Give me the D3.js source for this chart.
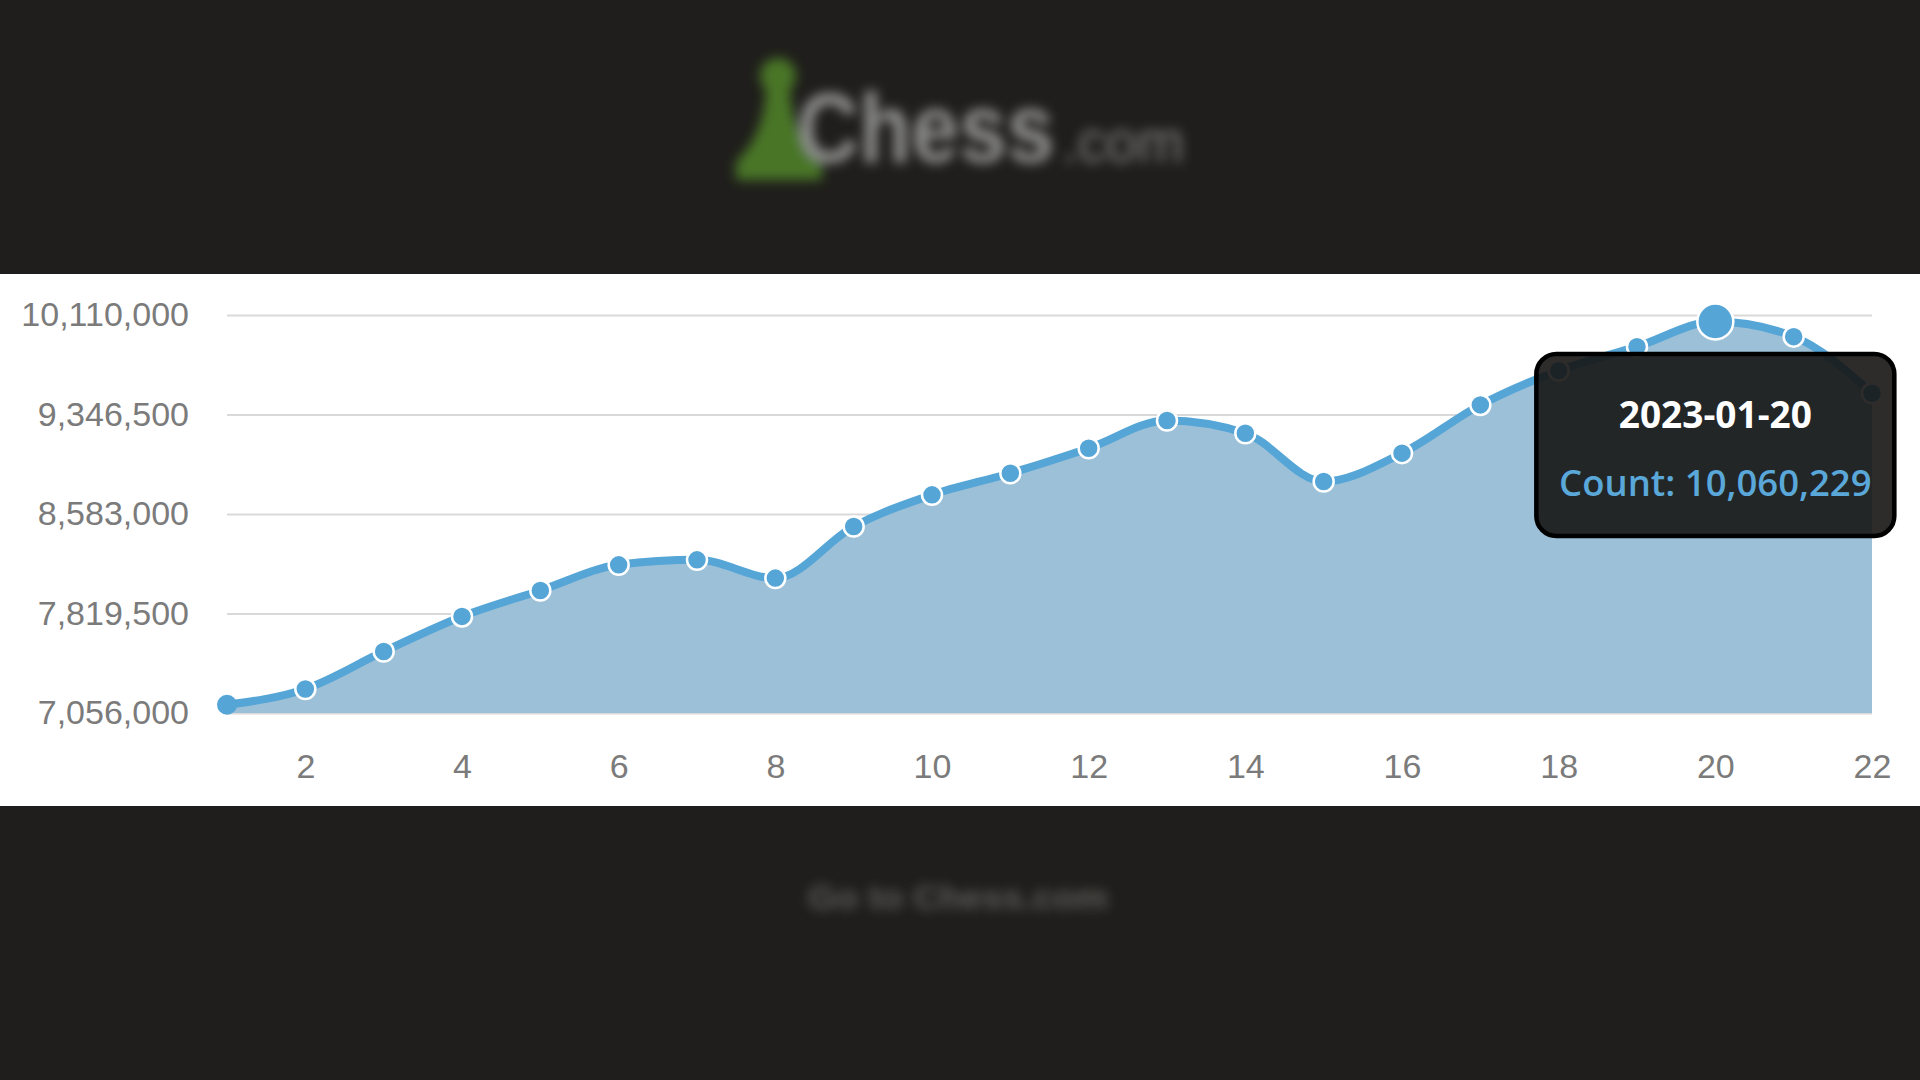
<!DOCTYPE html>
<html>
<head>
<meta charset="utf-8">
<script src="https://cdn.jsdelivr.net/npm/d3@7"></script>
<style>
  body { margin: 0; background: #1f1e1c; }
  svg { display: block; }
  .axis text { font-family: "Liberation Sans", Arial, sans-serif; fill: #7b7b7b; }
</style>
</head>
<body>
<svg width="1920" height="1080"></svg>
<script>
// data
var days = [1, 2, 3, 4, 5, 6, 7, 8, 9, 10, 11, 12, 13, 14, 15, 16, 17, 18, 19, 20, 21, 22];
var counts = [7119600, 7240000, 7528000, 7797000, 7996000, 8193000, 8231000, 8091000,
              8487000, 8730000, 8896000, 9088000, 9300000, 9203000, 8832000, 9050000,
              9420000, 9683000, 9867000, 10060229, 9944000, 9510000];
var yTicks = [7056000, 7819500, 8583000, 9346500, 10110000];
var xTicks = [2, 4, 6, 8, 10, 12, 14, 16, 18, 20, 22];
var hoverDay = 20, hoverDate = "2023-01-20";

var svg = d3.select("svg");

var defs = svg.append("defs");
defs.append("filter").attr("id", "blur")
    .attr("x", "-20%").attr("y", "-50%").attr("width", "140%").attr("height", "200%")
  .append("feGaussianBlur").attr("stdDeviation", 6);

// page background and the white chart panel
svg.append("rect").attr("width", 1920).attr("height", 1080).attr("fill", "#1f1e1c");
svg.append("rect").attr("y", 274).attr("width", 1920).attr("height", 532).attr("fill", "#fff");

// blurred logo
var logo = svg.append("g").attr("filter", "url(#blur)");
logo.append("circle").attr("cx", 778).attr("cy", 76).attr("r", 18).attr("fill", "#4a7628");
logo.append("path")
    .attr("d", "M766,90 L790,90 Q792,135 822,162 L822,180 L736,180 L736,162 Q764,135 766,90 Z")
    .attr("fill", "#4a7628");
logo.append("text")
    .attr("transform", "translate(797,162) scale(0.875,1)")
    .style("font", "bold 98px 'Liberation Sans', Arial, sans-serif")
    .attr("fill", "#8e8e8c").text("Chess");
logo.append("text").attr("x", 1062).attr("y", 162)
    .attr("transform", "translate(1062,162) scale(0.94,1)")
    .attr("x", 0).attr("y", 0)
    .style("font", "60px 'Liberation Sans', Arial, sans-serif")
    .attr("fill", "#7c7c7a").text(".com");

svg.append("text").attr("x", 958).attr("y", 909).attr("text-anchor", "middle")
    .attr("textLength", 300).attr("lengthAdjust", "spacingAndGlyphs")
    .attr("filter", "url(#blur)")
    .style("font", "bold 34px 'Liberation Sans', Arial, sans-serif")
    .attr("fill", "#5c5c5a").text("Go to Chess.com");

// chart
var x = d3.scaleLinear().domain([1, 22]).range([227, 1872]),
    y = d3.scaleLinear().domain([7056000, 10110000]).range([713, 315]);

var yAxis = svg.append("g")
    .attr("class", "axis")
    .attr("transform", "translate(227,0)")
    .call(d3.axisLeft(y).tickValues(yTicks).tickFormat(d3.format(","))
          .tickSize(-(1872 - 227)).tickPadding(38));
yAxis.select(".domain").remove();
yAxis.selectAll("line").attr("stroke", "#d9d9d9").attr("stroke-width", 2);
yAxis.selectAll("text").style("font-size", "34px");

var xAxis = svg.append("g")
    .attr("class", "axis")
    .attr("transform", "translate(0,713)")
    .call(d3.axisBottom(x).tickValues(xTicks).tickSize(0).tickPadding(41));
xAxis.select(".domain").remove();
xAxis.selectAll("text").style("font-size", "34px");

var data = days.map(function(d, i) { return {day: d, count: counts[i]}; });

var area = d3.area()
    .curve(d3.curveMonotoneX)
    .x(function(d) { return x(d.day); })
    .y0(y(7056000))
    .y1(function(d) { return y(d.count); });

var line = d3.line()
    .curve(d3.curveMonotoneX)
    .x(function(d) { return x(d.day); })
    .y(function(d) { return y(d.count); });

svg.append("path").datum(data).attr("d", area).attr("fill", "#9cc0d7");
svg.append("path").datum(data).attr("d", line)
    .attr("fill", "none").attr("stroke", "#55a5d6").attr("stroke-width", 8);

svg.selectAll(".dot")
    .data(data)
  .enter().append("circle")
    .attr("class", "dot")
    .attr("cx", function(d) { return x(d.day); })
    .attr("cy", function(d) { return y(d.count); })
    .attr("r", function(d) { return d.day === hoverDay ? 18 : 10; })
    .attr("fill", "#55a5d6")
    .attr("stroke", "#fff")
    .attr("stroke-width", function(d, i) { return i === 0 ? 0 : 2.5; });

// tooltip
var hover = data[days.indexOf(hoverDay)];
var tip = svg.append("g").attr("transform", "translate(" + x(hover.day) + ",0)");
tip.append("rect")
    .attr("x", -179).attr("y", 354).attr("width", 358).attr("height", 182)
    .attr("rx", 20)
    .attr("fill", "rgb(22,21,20)").attr("fill-opacity", 0.9)
    .attr("stroke", "#000").attr("stroke-width", 4.5);
tip.append("text").attr("y", 428).attr("text-anchor", "middle")
    .style("font", "700 37px 'Open Sans', sans-serif")
    .attr("fill", "#fff").text(hoverDate);
tip.append("text").attr("y", 496).attr("text-anchor", "middle")
    .style("font", "600 36.5px 'Open Sans', sans-serif")
    .attr("fill", "#5aa8d9").text("Count: " + d3.format(",")(hover.count));
</script>
</body>
</html>
